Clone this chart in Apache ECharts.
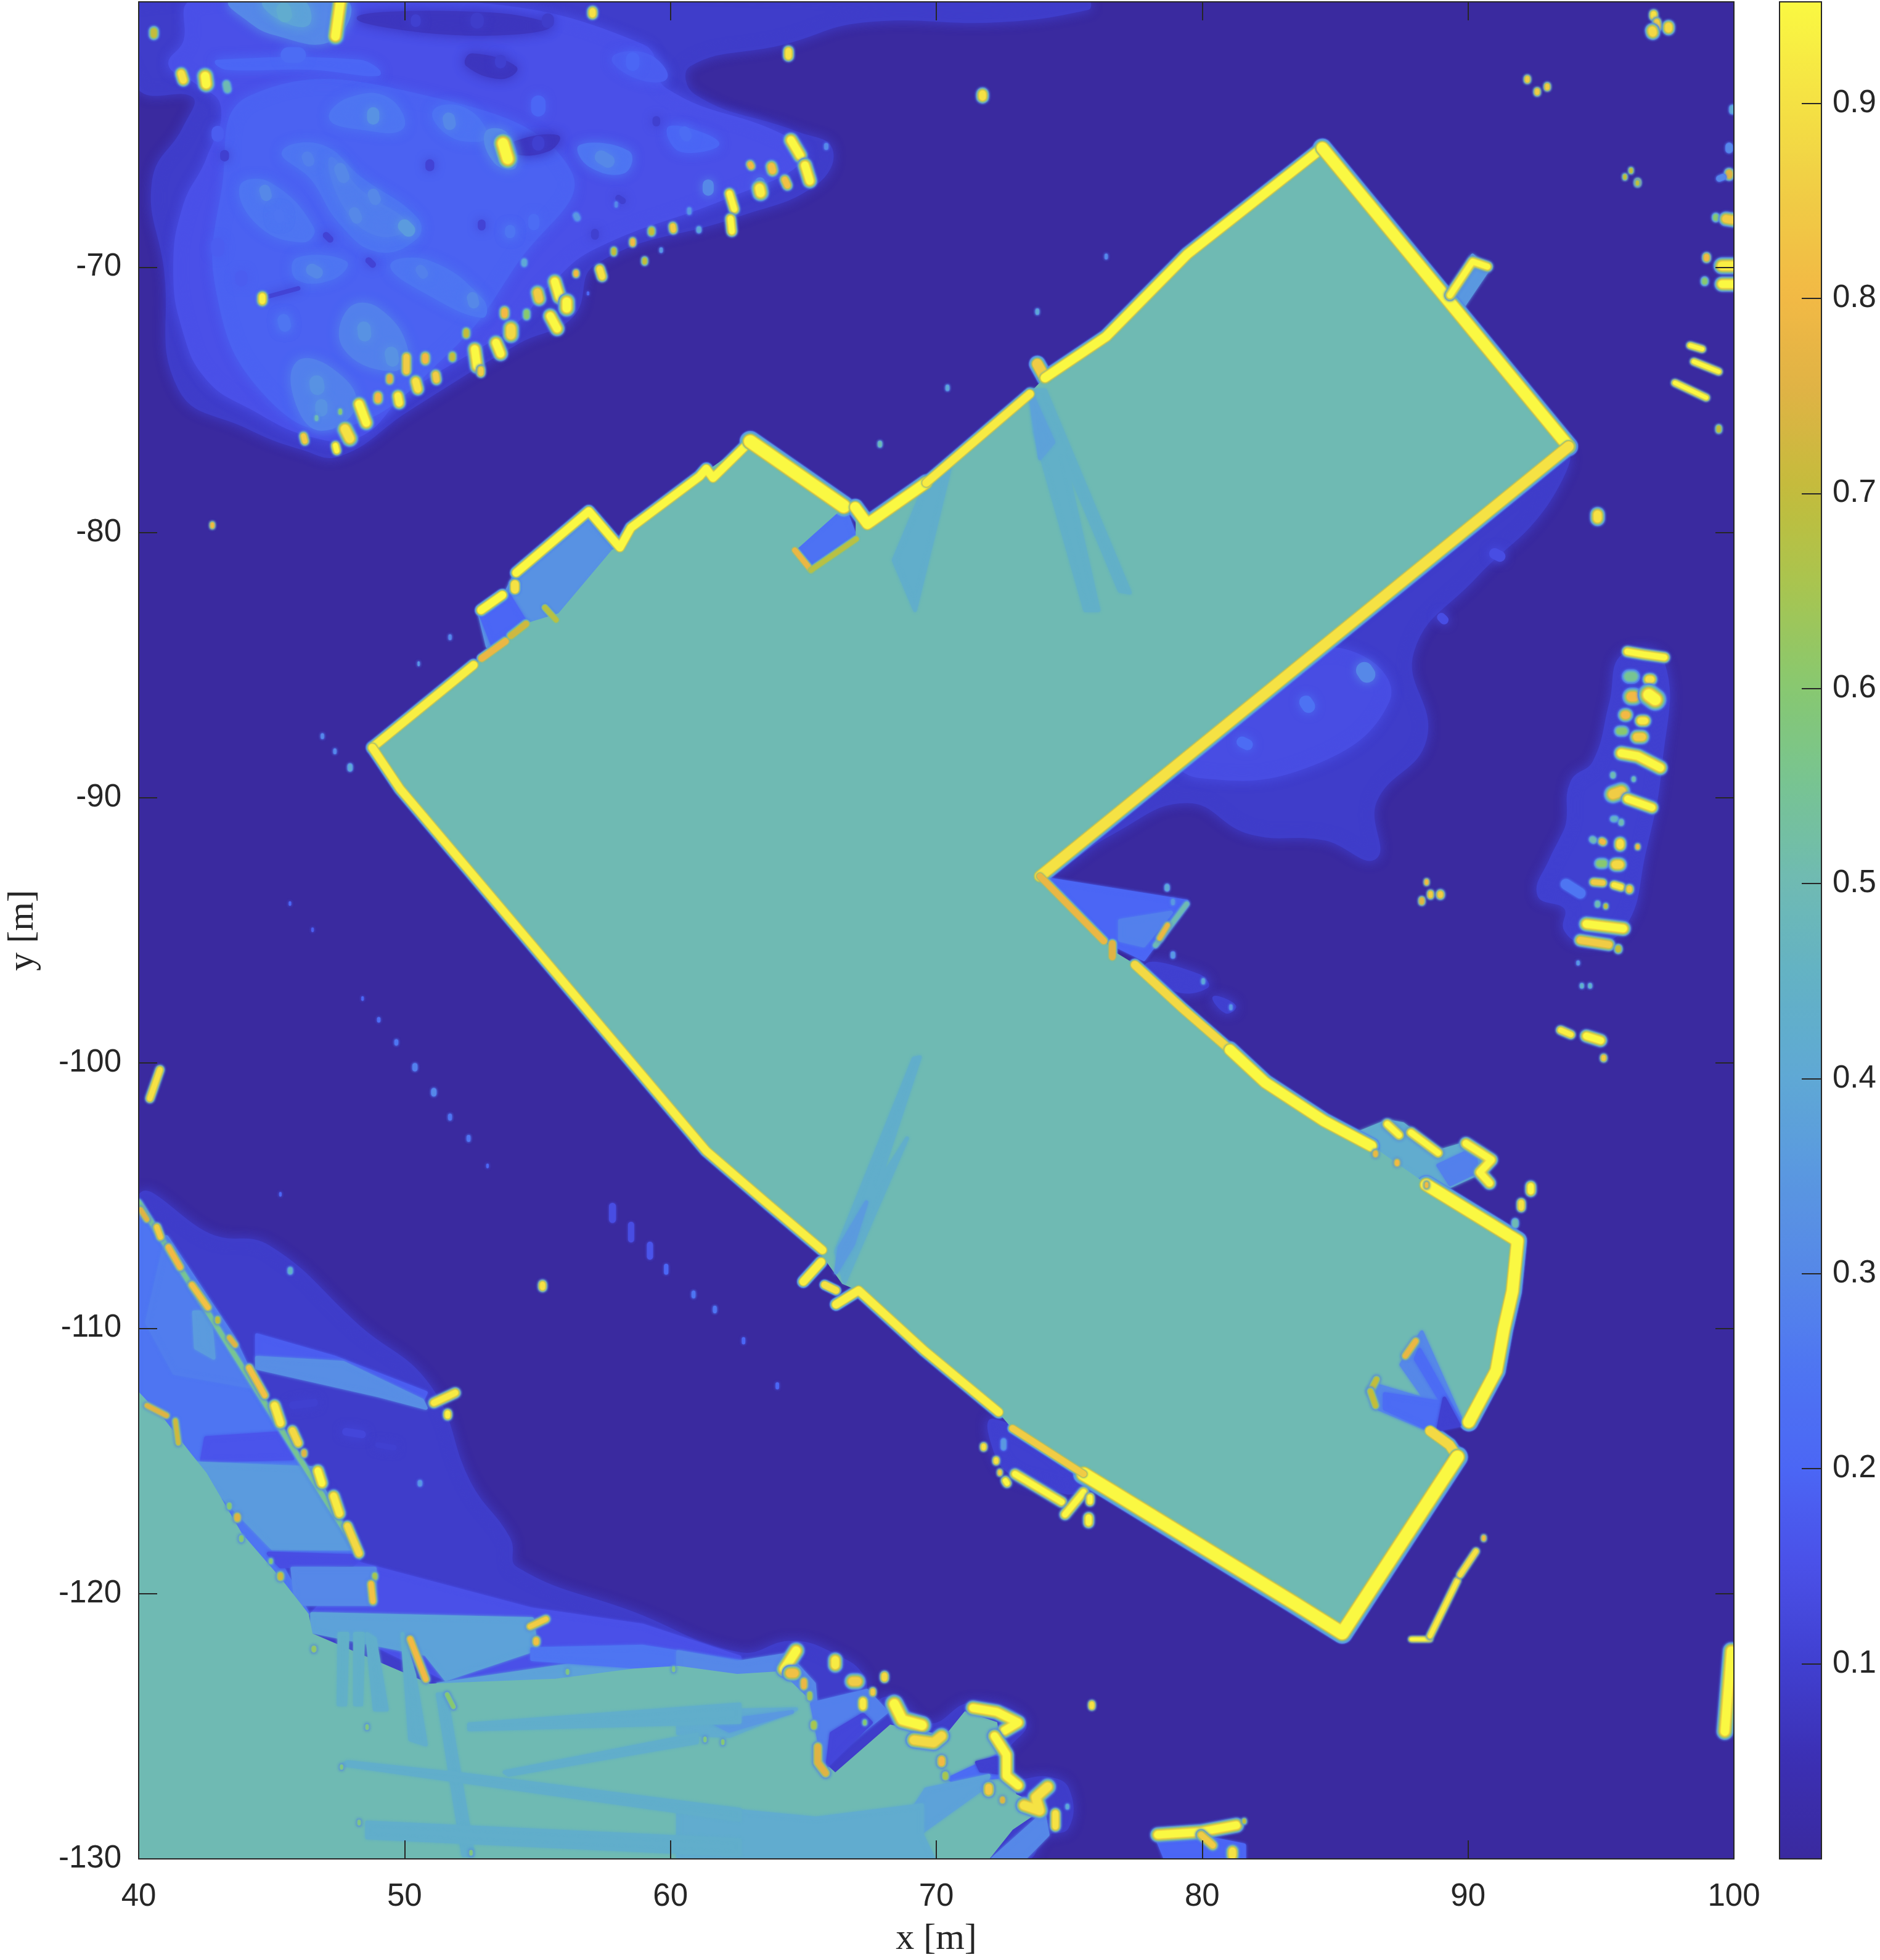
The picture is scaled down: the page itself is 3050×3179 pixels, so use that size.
<!DOCTYPE html>
<html><head><meta charset="utf-8">
<style>html,body{margin:0;padding:0;background:#fff}#c{width:3050px;height:3179px}</style>
<script src="https://cdn.jsdelivr.net/npm/echarts@6/dist/echarts.min.js"></script>
</head><body><div id="c"></div>
<script>
// ---- scales and tick labels
const xTicks=[40,50,60,70,80,90,100];
const yTicks=[-130,-120,-110,-100,-90,-80,-70];
const colorTicks=[0.1,0.2,0.3,0.4,0.5,0.6,0.7,0.8,0.9];
const valueStops=['#3a2a9f','#3b2fb3','#4040d0','#4a50e8','#4b66f5','#4e75f2','#5688e8','#5a98e0','#5fa8d5','#63b2c5','#6fbab3','#78c492','#88c870','#a8c550','#c3bc3c','#dfb345','#f2b945','#f0cc45','#f5e244','#faf842'];
const levelSteps=[0.25,0.38,0.5,0.62,0.75,0.88];

// ---- low-probability clouds: [value, x,y, x,y ...]
const cloudAreas=[
[.09,40,-60,75.68,-60,75.68,-60.24,72.4,-60.7,67.24,-60.71,64.26,-61.54,60.71,-62.37,60.89,-63.55,64.79,-64.97,66.03,-65.57,65.41,-66.87,62.49,-68.05,57.16,-69.83,56.28,-71.84,54.32,-72.79,50.07,-75.4,47.58,-77.05,46.16,-76.82,44.03,-75.99,41.55,-74.57,41.02,-70.07,40.57,-66.75,41.73,-64.74,42.08,-63.55,40,-63.2],
[.15,42.08,-60,51.84,-60,58.94,-61.66,59.82,-63.32,64.26,-65.09,64.97,-65.92,62.13,-67.34,57.16,-69.24,55.39,-70.66,54.15,-72.08,50.07,-74.68,48.29,-76.34,46.52,-76.34,44.21,-75.28,42.61,-74.21,41.73,-72.43,41.37,-70.07,41.73,-67.7,42.61,-65.92,43.15,-63.91,42.08,-62.96,41.19,-62.37,41.73,-61.54],
[.19,44.2,-63.6,50.8,-63.6,56.2,-66.4,54.2,-69.8,51.6,-73.2,47.6,-76,44.8,-74.8,43,-71,43.2,-67],
[.07,48.29,-60.59,53.26,-60.47,55.39,-60.95,51.84,-61.18],
[.07,52.55,-62.01,54.15,-62.49,53.61,-62.84,52.37,-62.37],
[.07,54.15,-65.33,55.74,-65.09,55.39,-65.57,54.15,-65.68],
[.3,43.5,-60,47.76,-60,47.23,-61.42,45.1,-61.18,44.03,-60.59],
[.38,44.74,-60,46.16,-60,46.34,-60.83,45.27,-60.59],
[.2,42.97,-62.25,48.29,-62.25,49,-62.72,46.52,-62.49,43.32,-62.49],
[.25,45.45,-65.68,46.87,-65.45,48.29,-66.63,50.42,-68.17,50.42,-68.88,49,-69.36,47.58,-68.29,46.52,-66.63],
[.27,47.23,-65.92,48.29,-67.11,50.07,-68.41,49,-68.76,47.76,-67.7],
[.25,47.94,-63.67,49.36,-63.67,49.89,-64.74,48.29,-64.74,47.23,-64.38],
[.24,51.13,-64.14,52.2,-64.03,53.08,-64.97,52.73,-65.21,51.66,-64.97],
[.25,43.86,-66.99,44.92,-66.87,46.52,-68.53,46.16,-69,44.57,-68.41],
[.25,45.98,-69.71,47.76,-69.83,47.23,-70.42,45.98,-70.42],
[.25,49.53,-69.95,50.95,-69.83,52.9,-71.25,52.9,-71.84,50.95,-71.01],
[.28,47.94,-71.6,49,-71.6,50.07,-73.15,49.53,-73.86,47.76,-73.03],
[.28,45.98,-73.62,47.23,-73.86,48.12,-75.16,46.87,-76.1,45.98,-75.16],
[.25,56.63,-65.45,58.4,-65.68,58.23,-66.4,56.98,-66.16],
[.3,53.08,-64.97,53.79,-64.97,54.15,-66.16,53.44,-66.04],
[.2,60,-64.74,61.77,-65.33,60.35,-65.57],
[.18,57.87,-62.13,59.1,-62.01,59.82,-62.84,58.76,-62.84],
// concave corner cloud
[.09,93.55,-77.18,92.84,-79.07,90.26,-81.66,87.9,-84.48,88.38,-87.78,86.5,-90.13,86.5,-92.25,84.62,-91.54,81.8,-91.31,79.45,-90.13,76.62,-91.31,74.5,-92.72,73.9,-92.96],
[.14,86.03,-84.72,86.97,-86.37,84.15,-88.72,79.9,-89.19,79,-88.25,83.68,-84.72],
[.1,77.94,-96.29,79.86,-96.71,80.16,-97.12,78.98,-97.23],
[.1,80.46,-97.54,81.2,-97.85,80.9,-98.06],
// right column cloud
[.1,95.84,-84.65,95.38,-86.43,94.76,-88.65,93.91,-89.43,93.75,-90.98,93.52,-91.54,93.13,-92.32,92.67,-93.65,93.68,-94.15,93.68,-94.98,94.45,-95.43,95.84,-94.87,96.61,-92.09,97.23,-88.76,97.31,-84.88],
[.1,72.16,-113.48,75.45,-115.49,75.2,-116.17,74.08,-115.89,72.87,-115.49,72.25,-114.7],
// lower-left forest, outer limit
[.09,40,-105.24,42.82,-106.56,44.89,-106.94,48.29,-109.97,50.95,-112.24,52.43,-115.84,53.91,-117.93,54.2,-119.06,58.64,-120.77,62.6,-122.28,64.58,-121.85,66.2,-122.35,67.24,-123.16,67.39,-124.26,68.27,-123.96,69.75,-124.96,71.38,-124.16,73.3,-124.86,72.56,-126.07,73,-126.97,74.19,-126.97,74.93,-127.38,74.93,-128.78,74.04,-129.09,73.3,-130,40,-130]
];

// ---- straight-edged shadow wedges: [value, x,y, x,y ...]
const wedgeAreas=[
[.2,74.25,-93.08,79.42,-93.91,77.8,-96.09,76.32,-95.36],
[.28,76.91,-94.64,78.83,-94.33,77.8,-95.57,76.91,-95.36],
[.33,54.2,-81.52,56.78,-79.5,57.91,-80.57,55.8,-83.3,54.57,-83.45,53.12,-84.29,52.79,-82.93,53.82,-82.27],
[.2,52.88,-83.12,53.92,-82.36,54.53,-83.35,53.3,-84.2],
[.24,66.52,-79.02,66.99,-80.25,65.29,-81.42,64.68,-80.67],
[.35,89.3,-71.3,89.8,-71.5,90.73,-70.12,90.17,-69.56],
[.42,85.93,-102.62,86.96,-102.2,87.55,-102.3,88.88,-103.34,89.92,-103.03,90.88,-103.65,90.36,-104.17,89.33,-104.64,88.44,-104.58,86.37,-103.13],
[.28,88.88,-103.86,90.21,-103.24,90.36,-104.07,89.33,-104.57],
[.2,78.33,-129.29,80.1,-129.19,81.58,-129.49,81.58,-130,78.62,-130],
[.25,40,-105.24,48.29,-118.68,45.33,-118.87,46.37,-120.77,40,-120.77],
[.16,42.53,-114.14,45.33,-113.95,45.78,-114.9,42.38,-114.99],
[.36,41.93,-115.08,46.52,-115.27,48.14,-118.3,45.04,-118.3],
[.14,44.89,-118.49,48.14,-118.59,48.29,-118.87,45.33,-118.97],
[.27,41.05,-106.56,43.56,-110.35,44.45,-112.24,41.34,-111.68,40.31,-109.78],
[.36,42.08,-109.4,42.67,-109.4,42.82,-111.11,42.15,-110.73],
[.18,44.45,-110.26,47.4,-111.11,50.8,-112.43,50.66,-112.72,47.4,-111.77,44.45,-111.11],
[.32,44.45,-111.11,47.7,-111.3,50.66,-112.72,50.8,-113,49.03,-112.53,44.45,-111.49],
[.15,48.29,-118.87,54.8,-120.6,58.94,-121.2,62.6,-122.4,62.6,-123,51.55,-123.23,46.52,-120.77],
[.3,45.78,-119.06,48.88,-119.06,48.88,-120.39,45.93,-120.39],
[.38,46.52,-120.77,54.8,-120.96,54.95,-122.09,51.55,-123.23,50.8,-122.28,46.52,-121.43],
[.38,51.25,-123.42,59.09,-122.28,62.6,-122.76,62.6,-124.18,51.99,-124.18],
[.25,54.8,-122.09,58.94,-122,62.6,-122.57,62.6,-123.04,54.8,-122.47],
[.3,60.29,-122.2,62.51,-122.6,64.4,-122.3,65.4,-123.4,65.5,-124.6,60.29,-124.6],
[.3,72.12,-130,74.04,-128.28,74.19,-129.09,73.3,-130]
];

// ---- mottling of the clouds: [width, value, x,y, x,y]
const blotchPoints=[
[22,.33,48.82,-64.2,48.82,-64.4],[22,.3,51.66,-64.4,51.7,-64.6],[20,.28,46.34,-65.85,46.4,-66],[22,.3,47.58,-66.3,47.7,-66.6],[20,.3,48.82,-67.25,48.9,-67.45],[24,.36,50,-68.45,50.15,-68.6],[20,.3,48.11,-67.95,48.2,-68.15],[20,.3,44.74,-67.1,44.8,-67.3],[18,.25,45.27,-68,45.3,-68.15],[22,.3,46.52,-70.1,46.7,-70.2],[18,.28,50.6,-70.1,50.7,-70.25],[20,.3,52.55,-71.15,52.6,-71.35],[24,.33,48.47,-72.3,48.5,-72.55],[24,.33,49.5,-73.25,49.55,-73.5],[26,.33,46.69,-74.35,46.72,-74.55],[22,.33,46.87,-75.2,46.87,-75.4],[24,.3,57.4,-65.85,57.65,-66],[26,.2,55.03,-63.8,55.03,-64.05],[24,.2,58.58,-62.15,58.58,-62.35],[28,.22,45.63,-62,46,-62],[26,.42,45.45,-60.3,45.5,-60.5],[22,.18,42.97,-64.9,42.97,-65.05],[24,.18,42.97,-69.15,42.97,-69.35],[22,.18,43.86,-70.35,43.86,-70.5],[22,.25,45.45,-72,45.5,-72.2],[20,.22,54.86,-68.2,54.86,-68.4],[18,.25,53.97,-68.6,53.97,-68.72],[20,.22,60.53,-64.9,60.6,-65.05],[20,.3,61.42,-66.9,61.42,-67.1],[18,.3,63.37,-66.8,63.37,-66.95],
[20,.1,53.61,-62.2,53.61,-62.3],[22,.1,55.03,-65.28,55.03,-65.38],[18,.1,50.42,-60.66,50.42,-60.76],[24,.09,52.73,-60.66,52.73,-60.76],[22,.09,55.39,-60.66,55.39,-60.76],[16,.1,43.23,-65.75,43.23,-65.85],[12,.11,47.05,-68.8,47.2,-68.95],[12,.11,48.65,-69.75,48.8,-69.9],[16,.11,50.95,-66.1,50.95,-66.22],[14,.11,52.9,-68.35,52.9,-68.47],[12,.1,58.05,-67.4,58.2,-67.5],[14,.1,59.47,-64.45,59.47,-64.55],[8,.11,44.9,-71.1,46,-70.8],[14,.1,57.16,-68.7,57.16,-68.82],
[30,.3,86.1,-85.2,86.2,-85.35],[24,.24,83.9,-86.4,84,-86.55],[20,.22,81.5,-87.9,81.7,-88],[20,.14,91,-80.8,91.2,-80.9],[16,.14,89,-83.2,89.1,-83.3],
[22,.38,78,-95,78.1,-95.1],[14,.36,42.7,-113,42.7,-113.2],[18,.3,41.6,-108.8,41.6,-109],[18,.32,43.6,-113.2,43.7,-113.4],[14,.12,47.8,-113.9,48.4,-114],[14,.1,45.8,-112.9,46.6,-112.8],[10,.1,49,-114.4,49.6,-114.5],[12,.1,46.6,-116.2,47,-116.2]
];

// ---- open space (value about one half)
const freeAreas=[
[.5,48.79,-88.11,54.57,-83.45,55.8,-83.07,57.82,-80.67,58.1,-80.57,58.52,-79.82,61.1,-77.89,63,-76.57,66.52,-79.02,64.68,-80.67,65.29,-81.42,66.99,-80.25,66.99,-79.35,67.41,-79.68,69.62,-78.13,73.52,-74.78,74.09,-74.17,76.39,-72.62,79.45,-69.51,84.52,-65.51,93.78,-76.76,73.9,-92.96,76.3,-95.4,76.62,-95.78,77.47,-96.3,79.26,-97.95,81.04,-99.5,82.36,-100.73,84.57,-102.18,86.36,-103.13,88.43,-104.59,91.86,-106.7,91.67,-108.6,91.34,-110.05,91.06,-111.6,90.03,-113.53,89.7,-113.62,88.57,-113.87,89.27,-114.7,85.27,-121.49,83.47,-120.36,75.54,-115.49,72.87,-113.77,72.35,-113.16,69.57,-110.85,67.08,-108.57,66.47,-108.3,65.72,-107.25,63.74,-105.37,61.35,-103.31,49.83,-89.66],
[.5,40,-112.43,40.9,-113.38,41.93,-114.71,42.53,-115.46,43.86,-117.74,45.33,-119.44,46.37,-120.77,46.52,-121.52,50.95,-123.42,55.69,-123.23,58.64,-122.85,60.29,-122.75,62.51,-123.05,64.13,-122.95,65.17,-123.96,65.47,-124.46,65.76,-126.37,66.2,-126.77,68.27,-124.96,70.34,-125.37,71.08,-124.46,72.27,-124.86,72.56,-126.77,73,-127.58,74.04,-128.08,72.86,-128.88,71.97,-130,40,-130]
];

// ---- shadowed rays across the open space
const rayAreas=[
[.43,70.51,-77.56,69.62,-78.13,68.4,-81.05,69.2,-82.93],
[.44,73.52,-74.64,74.09,-74.64,77.28,-82.27,76.9,-82.2,74.8,-77.18,76.1,-82.93,75.6,-82.93,73.7,-76.24],
[.38,73.52,-74.64,74.4,-76.6,73.9,-77.2],
[.43,69.38,-99.78,69.15,-99.83,66.23,-107.1,66.55,-108.26,68.9,-102.84,67.8,-104.58],
[.36,67.37,-105.25,66.36,-106.96,66.23,-107.9,66.87,-106.83],
[.3,89.77,-113.53,88.26,-110.15,87.49,-111.37,88.42,-112.7,86.56,-112.15,86.64,-113.03,88.49,-113.81],
[.22,89.73,-113.59,88.18,-110.81,88.03,-111.15,89.03,-112.81,86.87,-112.48,86.87,-113.03,88.57,-113.81],
[.1,89.65,-113.65,89.11,-112.65,88.88,-113.81],
[.28,65.32,-124.16,65.76,-126.37,68.13,-124.46,67.39,-123.66],
[.12,65.91,-126.47,66.06,-125.27,67.24,-124.56,67.54,-124.86],
[.22,70.49,-126.97,72.41,-126.07,72.71,-126.87,70.64,-127.08],
[.1,71.53,-126.37,72.41,-126.17,72.56,-126.77,71.67,-126.67],
[.38,69.61,-127.38,71.97,-126.87,71.82,-127.28,69.46,-128.98,69.16,-128.08],
[.42,60.29,-127.98,65.47,-128.48,69.46,-127.98,69.46,-129.09,69.9,-130,60.29,-130],
[.42,60.29,-124.46,64.73,-124.36,62.21,-125.37,60.29,-125.27],
[.35,61.62,-124.86,64.58,-124.46,62.21,-125.17],
[.44,47.55,-121.52,47.85,-121.52,47.77,-124.18,47.52,-124.18],
[.44,48.14,-121.52,48.44,-121.52,48.37,-124.18,48.14,-124.18],
[.43,48.59,-121.52,48.88,-121.71,49.33,-124.37,48.88,-124.37],
[.43,49.92,-121.52,50.36,-123.04,50.8,-125.69,50.21,-125.5],
[.43,51.25,-123.8,51.55,-123.8,52.58,-129.86,52.21,-129.86],
[.43,47.7,-126.45,62.6,-128.53,62.6,-128.15,52.28,-126.83,47.85,-126.35],
[.43,53.76,-126.73,61,-125.31,61,-125.6,53.91,-126.83],
[.43,52.43,-124.93,62.6,-124.18,62.6,-124.84,52.43,-125.12],
[.43,48.59,-128.63,62.6,-129.29,62.6,-129.85,48.59,-129.19]
];

// ---- building walls: [width, peak, x,y, x,y ...]
const wallPaths=[
[6,.93,48.79,-88.11,52.6,-85],
[5,.78,52.9,-84.75,53.8,-84.1],
[5,.72,54,-83.9,54.57,-83.45],
[4,.68,55.28,-82.83,55.7,-83.3],
[6,.95,52.88,-82.93,53.68,-82.36],
[6,.9,54.15,-81.95,54.15,-82.15],
[6,.95,54.2,-81.52,56.93,-79.2,58.1,-80.57,58.52,-79.82,61.1,-77.89,61.35,-77.6,61.6,-77.95,63,-76.57],
[10,.95,63,-76.57,66.52,-79.02],
[4,.78,64.68,-80.67,65.29,-81.42],
[4,.68,65.29,-81.42,66.99,-80.25],
[8,.95,66.95,-79.05,67.41,-79.68,69.62,-78.13],
[6,.92,69.62,-78.13,73.52,-74.78],
[8,.85,73.8,-73.65,74.09,-74.17],
[7,.95,74.09,-74.17,76.39,-72.62,79.45,-69.51,84.52,-65.51],
[9,.95,84.52,-65.51,93.78,-76.76],
[8,.9,93.78,-76.76,73.9,-92.96],
[5,.78,73.9,-92.96,76.3,-95.4],
[5,.75,76.62,-95.5,76.62,-96],
[6,.88,77.47,-96.3,79.26,-97.95,81.04,-99.5],
[8,.95,81.04,-99.5,82.36,-100.73,84.57,-102.18,86.36,-103.13],
[9,.95,88.43,-104.59,91.86,-106.7,91.67,-108.6,91.34,-110.05,91.06,-111.6,90.03,-113.53],
[7,.88,88.57,-113.87,89.3,-114.4,89.6,-114.85],
[10,.95,89.6,-114.85,85.27,-121.49,83.47,-120.36,75.54,-115.49],
[5,.85,75.54,-115.49,72.87,-113.77],
[6,.93,72.35,-113.16,69.57,-110.85,67.08,-108.57,66.23,-109.1],
[6,.93,48.79,-88.11,49.83,-89.66,61.35,-103.31,63.74,-105.37,65.72,-107.05],
[6,.93,65,-108.24,65.67,-107.5],
[5,.9,65.8,-108.36,66.23,-108.57]
];

// ---- isolated returns: [width, peak, x,y, x,y ...]
const hitPoints=[
[9,.95,47.58,-60,47.4,-61.3],[6,.7,40.57,-61.1,40.57,-61.25],[7,.9,41.6,-62.7,41.68,-62.95],[9,.95,42.5,-62.8,42.54,-63.1],[6,.5,43.3,-63.1,43.34,-63.3],
[6,.9,57.07,-60.35,57.07,-60.47],[6,.9,64.44,-61.85,64.44,-62.05],[11,.95,53.7,-65.33,53.88,-65.92],[4,.3,65.86,-65.4,65.86,-65.5],[8,.95,64.53,-65.21,64.88,-65.8],[8,.95,65.06,-66.16,65.24,-66.75],
[5,.8,63,-66.12,63.04,-66.2],[7,.82,63.8,-66.2,63.84,-66.36],[9,.93,63.35,-67.02,63.39,-67.2],[6,.82,64.3,-66.7,64.4,-66.92],[6,.95,62.22,-67.22,62.4,-67.82],[6,.95,62.26,-68.17,62.31,-68.65],
[4,.35,60.71,-67.82,60.71,-67.94],[5,.85,60.09,-68.45,60.11,-68.6],[5,.7,59.29,-68.6,59.29,-68.7],[4,.4,61.07,-68.55,61.07,-68.63],[4,.8,58.58,-69,58.58,-69.12],[3,.35,59.65,-69.32,59.65,-69.4],[4,.7,59.03,-69.72,59.03,-69.82],[4,.7,57.87,-69.35,57.87,-69.47],
[6,.9,57.34,-70.07,57.43,-70.36],[4,.8,56.45,-70.2,56.45,-70.28],[5,.4,54.5,-69.78,54.5,-69.88],[6,.35,56.45,-68.05,56.5,-68.15],[3,.3,57.96,-67.58,57.96,-67.7],[3,.2,56.9,-70.96,56.9,-71.02],
[8,.95,55.65,-70.54,55.83,-71.13],[8,.85,55,-70.95,55.06,-71.2],[9,.95,56.1,-71.3,56.1,-71.55],[8,.95,55.48,-71.84,55.74,-72.32],[5,.6,54.59,-71.7,54.59,-71.86],[6,.8,53.76,-71.65,53.76,-71.8],[9,.88,54,-72.3,54,-72.55],[8,.95,53.44,-72.85,53.61,-73.26],
[5,.7,52.32,-72.42,52.32,-72.56],[8,.95,52.64,-73.09,52.73,-73.74],[5,.85,52.87,-73.85,52.87,-74],[5,.7,51.8,-73.32,51.8,-73.44],[6,.8,50.78,-73.36,50.78,-73.52],[6,.85,50.07,-73.38,50.07,-73.92],[6,.85,51.17,-74.05,51.2,-74.25],[7,.9,50.42,-74.3,50.5,-74.6],
[5,.75,49.44,-74.14,49.44,-74.28],[6,.8,49,-74.85,49,-75],[7,.93,49.75,-74.85,49.8,-75.12],[8,.95,48.29,-75.16,48.56,-75.87],[9,.9,47.76,-76.1,47.94,-76.46],[5,.95,47.4,-76.72,47.45,-76.92],[5,.85,46.2,-76.36,46.25,-76.56],[3,.6,47.58,-75.4,47.58,-75.5],[3,.5,46.69,-75.64,46.69,-75.74],[6,.93,44.65,-71.1,44.65,-71.28],
[7,.9,71.74,-63.47,71.74,-63.59],[5,.9,96.98,-60.45,96.98,-60.55],[5,.85,97.1,-60.75,97.14,-60.95],[8,.88,96.93,-61.08,96.95,-61.16],[7,.88,97.54,-60.92,97.54,-61.02],[5,.4,99.94,-64,99.94,-64.12],[7,.3,99.82,-65.45,99.82,-65.57],[6,.75,99.82,-66.45,99.82,-66.55],[6,.3,99.45,-66.66,99.6,-66.6],
[5,.6,99.32,-68.1,99.32,-68.16],[8,.85,99.7,-68.18,99.95,-68.22],[5,.8,98.97,-69.6,98.97,-69.68],[9,.93,99.55,-69.95,99.95,-69.95],[5,.6,98.9,-70.5,98.9,-70.56],[8,.95,99.55,-70.64,99.95,-70.64],[4,.8,96.38,-66.77,96.38,-66.85],
[4,.95,98.35,-72.95,98.81,-73.09],[4,.95,98.49,-73.56,99.43,-73.94],[4,.95,97.78,-74.36,98.96,-74.92],[4,.7,99.43,-76.05,99.43,-76.15],
[4,.85,92.23,-62.88,92.23,-62.96],[4,.85,92.6,-63.35,92.6,-63.43],[4,.85,92.98,-63.16,92.98,-63.24],[3,.7,95.9,-66.56,95.9,-66.64],[3,.7,96.37,-66.79,96.37,-66.87],[3,.7,96.13,-66.32,96.13,-66.4],
[8,.9,94.87,-79.32,94.87,-79.48],[3,.3,76.39,-69.55,76.39,-69.65],[3,.4,73.8,-71.63,73.8,-71.73],[3,.5,67.88,-76.62,67.88,-76.72],[3,.4,70.42,-74.5,70.42,-74.6],[3,.8,42.77,-79.68,42.77,-79.78],[3,.3,46.91,-87.63,46.91,-87.73],[4,.4,47.95,-88.8,47.95,-88.92],[3,.3,47.38,-88.2,47.38,-88.3],[3,.3,51.71,-83.9,51.71,-84],[2,.35,50.53,-84.9,50.53,-85],
[5,.9,40.8,-100.25,40.42,-101.34],[5,.9,55.19,-108.34,55.19,-108.46],
[3,.2,45.69,-93.95,45.69,-94.03],[3,.18,46.54,-94.94,46.54,-95.02],[3,.2,48.42,-97.53,48.42,-97.61],[4,.22,49.03,-98.33,49.03,-98.41],[4,.25,49.69,-99.17,49.69,-99.27],[5,.28,50.39,-100.1,50.39,-100.22],[5,.3,51.1,-101.04,51.1,-101.16],[4,.25,51.71,-101.98,51.71,-102.1],[4,.25,52.41,-102.78,52.41,-102.9],[3,.2,53.12,-103.84,53.12,-103.92],
[8,.14,57.82,-105.4,57.82,-105.9],[7,.14,58.52,-106.1,58.52,-106.65],[7,.16,59.23,-106.85,59.23,-107.3],[5,.2,59.84,-107.65,59.84,-107.9],[4,.25,60.87,-108.65,60.87,-108.8],[4,.25,61.67,-109.22,61.67,-109.36],[4,.2,62.75,-110.4,62.75,-110.54],[4,.2,64.02,-112.1,64.02,-112.24],
// right column
[6,.95,95.99,-84.49,96.61,-84.6,97.39,-84.71],[9,.55,96.05,-85.43,96.2,-85.43],[7,.9,96.8,-85.54,96.88,-85.54],[10,.8,96.14,-86.19,96.25,-86.19],[12,.95,96.8,-86.12,97.04,-86.3],[8,.8,95.9,-86.88,95.95,-86.88],[7,.92,96.5,-87.1,96.65,-87.1],[7,.6,95.7,-87.49,95.85,-87.49],[8,.85,96.35,-87.71,96.55,-87.71],
[8,.95,95.76,-88.32,96.38,-88.43,97.23,-88.87],[4,.5,95.45,-89.12,95.45,-89.18],[3,.5,96.23,-89.27,96.23,-89.33],[10,.85,95.45,-89.87,95.76,-89.76],[7,.95,96,-90.04,96.92,-90.37],[5,.45,95.46,-90.8,95.54,-90.8],[4,.5,95.76,-90.9,95.76,-90.96],
[5,.8,95.03,-91.64,95.08,-91.67],[5,.5,94.68,-91.57,94.72,-91.6],[7,.9,95.72,-91.7,95.72,-91.8],[3,.8,96.38,-91.82,96.38,-91.88],[7,.6,94.95,-92.48,95.1,-92.48],[8,.88,95.55,-92.52,95.7,-92.52],[5,.85,94.72,-93.18,95.07,-93.21],[5,.92,95.49,-93.29,95.76,-93.37],[5,.85,96.07,-93.42,96.07,-93.48],
[12,.25,93.68,-93.26,94.22,-93.6],[4,.5,94.87,-93.98,94.87,-94.04],[3,.7,95.18,-94.06,95.18,-94.12],[8,.95,94.45,-94.76,95.84,-94.93],[7,.85,94.22,-95.37,95.3,-95.54],[5,.7,95.65,-95.67,95.65,-95.73],[3,.35,94.14,-96.2,94.14,-96.26],[3,.45,94.28,-97.06,94.28,-97.12],[3,.45,94.59,-97.06,94.59,-97.12],[5,.93,93.48,-98.76,93.87,-98.93],[7,.95,94.45,-98.98,94.99,-99.15],[4,.85,95.1,-99.78,95.1,-99.84],
// mid right
[3,.8,88.44,-93.14,88.44,-93.22],[4,.85,88.59,-93.6,88.59,-93.7],[5,.85,88.96,-93.62,88.96,-93.68],[4,.75,88.26,-93.84,88.26,-93.94],[4,.4,78.68,-93.34,78.68,-93.44],[4,.5,79.42,-94,78.24,-95.57],[4,.78,78.7,-94.8,78.4,-95.3],[4,.35,78.9,-93.88,78.9,-93.98],[4,.35,78.9,-95.88,78.9,-95.98],[3,.4,80.04,-96.87,80.04,-96.97],[3,.35,81.08,-97.85,81.08,-97.95],
[6,.95,89.32,-71.06,90.17,-69.79,90.73,-69.98],
[6,.95,86.96,-102.3,87.41,-102.72],[6,.95,87.85,-102.62,88.88,-103.39],[7,.95,89.92,-103.03,90.88,-103.65,90.44,-104.12,90.81,-104.53],[4,.78,86.52,-103.38,86.52,-103.46],[4,.8,87.33,-103.72,87.33,-103.8],[3,.8,88.44,-104.55,88.44,-104.65],[6,.95,92.36,-104.64,92.36,-104.84],[5,.9,92,-105.26,92,-105.46],[5,.5,91.77,-105.98,91.77,-106.1],
[5,.78,87.64,-111.04,88.03,-110.48],[5,.7,86.33,-112.37,86.56,-111.92],[5,.7,86.33,-112.37,86.52,-112.92],
[6,.95,72.96,-115.49,74.72,-116.55],[6,.95,74.84,-117.02,75.54,-116.17],[5,.95,72.6,-115.74,72.66,-115.84],[4,.9,71.78,-114.43,71.78,-114.51],[4,.9,72.25,-114.95,72.25,-115.03],[3,.85,72.39,-115.4,72.39,-115.48],[5,.95,75.78,-116.36,75.78,-116.54],[6,.95,75.73,-117.13,75.73,-117.33],[5,.35,72.53,-114.25,72.53,-114.5],
[3,.95,87.86,-121.72,88.57,-121.72],[4,.92,88.57,-121.6,89.6,-119.5],[4,.9,89.7,-119.3,90.3,-118.4],[3,.8,90.59,-117.87,90.59,-117.95],
[4,.55,40,-105.24,48.29,-118.49],[4,.75,40.07,-105.52,40.31,-105.9],[5,.85,40.68,-106.18,40.82,-106.56],[5,.8,41.12,-106.94,41.56,-107.7],[5,.82,42,-108.36,42.6,-109.21],[4,.7,42.97,-109.64,42.97,-109.74],[4,.75,43.41,-110.35,43.63,-110.63],[5,.82,44.15,-111.49,44.74,-112.53],[7,.92,45.11,-112.91,45.33,-113.57],[6,.88,45.78,-113.85,46,-114.33],[4,.75,46.22,-114.66,46.22,-114.76],[7,.95,46.74,-115.37,46.89,-115.84],[7,.92,47.33,-116.32,47.55,-116.98],[6,.88,47.85,-117.45,48.29,-118.49],
[4,.65,48.88,-119.3,48.88,-119.4],[5,.82,48.74,-119.63,48.81,-120.29],[5,.85,54.72,-121.24,55.32,-120.96],[5,.82,54.95,-121.75,54.95,-121.85],[5,.8,50.21,-121.71,50.8,-123.23],[4,.6,51.6,-123.8,51.84,-124.27],[6,.92,51.1,-112.81,51.91,-112.43],[5,.93,51.62,-113.2,51.62,-113.3],[4,.45,45.7,-107.78,45.7,-107.88],[4,.35,50.58,-115.8,50.58,-115.88],[3,.2,45.33,-104.91,45.33,-104.99],
[4,.75,40.31,-112.91,41.05,-113.29],[4,.72,41.38,-113.48,41.49,-114.33],[5,.75,43.71,-117.08,43.71,-117.18],[4,.6,43.41,-116.65,43.41,-116.75],[4,.6,43.86,-117.88,43.86,-117.98],[5,.72,45.33,-119.3,45.33,-119.4],[3,.6,44.97,-118.74,44.97,-118.82],[4,.62,46.59,-122.05,46.59,-122.13],
[3,.58,48.29,-128.58,48.29,-128.68],[3,.58,47.63,-126.5,47.63,-126.58],[3,.58,48.59,-124.98,48.59,-125.08],[3,.58,52.5,-129.72,52.5,-129.82],[3,.58,56.13,-122.9,56.13,-123],[3,.58,60.12,-122.8,60.12,-122.9],[3,.58,61.3,-125.45,61.3,-125.55],[3,.6,61.97,-125.55,61.97,-125.65],
[9,.95,64.73,-122.15,64.28,-122.85],[9,.82,64.5,-123,64.66,-123],[5,.78,65.02,-123.3,65.02,-123.5],[4,.65,65.24,-123.78,65.24,-123.94],[8,.92,66.2,-122.5,66.2,-122.7],[9,.85,66.85,-123.31,67.03,-123.31],[6,.92,67.24,-124.05,67.24,-124.26],[4,.85,67.61,-123.66,67.61,-123.76],[5,.88,68.05,-123.08,68.05,-123.2],[3,.6,67.31,-124.82,67.31,-124.9],
[10,.95,68.42,-124.16,68.72,-124.76,69.46,-124.96],[9,.88,69.16,-125.52,69.9,-125.62,70.2,-125.37],[6,.8,70.2,-126.25,70.2,-126.39],[5,.65,70.34,-126.82,70.34,-126.92],[5,.65,65.39,-124.9,65.39,-125.02],[6,.75,65.54,-125.77,65.54,-126.37,65.84,-126.77],
[8,.95,71.38,-124.31,72.27,-124.46,73.08,-124.86,72.56,-125.17],[8,.95,72.19,-125.37,72.64,-126.07,72.64,-126.87,73.08,-127.23],[7,.85,71.97,-127.3,71.97,-127.46],[4,.75,72.49,-127.74,72.49,-127.82],[9,.9,74.19,-127.28,73.74,-127.68,73.89,-128.18,73.3,-127.98],[6,.9,74.48,-128.28,74.48,-128.78],[3,.4,74.93,-127.99,74.93,-128.07],[4,.9,75.85,-124.15,75.85,-124.27],
[8,.95,78.33,-129.09,79.96,-128.98,81.29,-128.73],[3,.7,81.58,-128.55,81.58,-128.61],[6,.85,79.96,-129.09,80.4,-129.49],[7,.9,81.14,-129.7,81.14,-129.88],[9,.95,99.9,-122.15,99.66,-125.2]
];

const C=echarts.init(document.getElementById('c'),null,{renderer:'canvas'});
const MIN=0,MAX=0.952;
function rgb(h){return [1,3,5].map(i=>parseInt(h.substr(i,2),16));}
function colorOf(v){
  const f=Math.max(0,Math.min(valueStops.length-1.001,v/0.05)),i=Math.floor(f),t=f-i;
  const a=rgb(valueStops[i]),b=rgb(valueStops[i+1]);
  return 'rgb('+a.map((c,k)=>Math.round(c+(b[k]-c)*t)).join(',')+')';
}
function project(api,row,start){
  const out=[];
  for(let i=start;i<row.length;i+=2) out.push(api.coord([row[i],row[i+1]]));
  return out;
}
function areaSeries(list,z,blur,smooth){
  return {type:'custom',xAxisIndex:0,yAxisIndex:0,z:z,clip:true,silent:true,animation:false,
    encode:{x:0,y:1},data:list.map((r,i)=>[r[1],r[2],i]),
    renderItem(p,api){
      const r=list[api.value(2)],c=colorOf(r[0]);
      return {type:'polygon',shape:{points:project(api,r,1),smooth:smooth},
        style:{fill:c,stroke:c,lineWidth:blur?6:2,lineJoin:'round',shadowBlur:blur,shadowColor:c}};
    }};
}
function strokeSeries(list,z,test,core,halo,blur){
  return {type:'custom',xAxisIndex:0,yAxisIndex:0,z:z,clip:true,silent:true,animation:false,
    encode:{x:0,y:1},data:list.map((r,i)=>[r[2],r[3],i]),
    renderItem(p,api){
      const r=list[api.value(2)],w=r[0],v=r[1],pts=project(api,r,2),kids=[];
      levelSteps.concat([v]).forEach(t=>{
        if(t>v||!test(t,v)) return;
        const c=colorOf(t);
        kids.push({type:'polyline',shape:{points:pts},
          style:{fill:null,stroke:c,lineWidth:w*(core+halo*(1-t/v)),lineCap:'round',lineJoin:'round',shadowBlur:blur,shadowColor:c}});
      });
      return {type:'group',children:kids};
    }};
}
const tickColor='#262626';
const labelFont='"Liberation Sans",Arial,sans-serif';
const serif='"Liberation Serif","DejaVu Serif",serif';
function mainX(pos,show,name){return {type:'value',gridIndex:0,min:40,max:100,interval:10,position:pos,z:20,
  name:name,nameLocation:'middle',nameGap:100,nameTextStyle:{fontFamily:serif,fontSize:60,color:tickColor},
  axisLine:{show:true,onZero:false,lineStyle:{color:tickColor,width:2}},
  axisTick:{show:true,inside:true,length:30,lineStyle:{color:tickColor,width:2}},
  axisLabel:{show:show,fontSize:51,color:tickColor,fontFamily:labelFont,margin:36},splitLine:{show:false}};}
function mainY(pos,show,name){return {type:'value',gridIndex:0,min:-130,max:-60,interval:10,position:pos,z:20,
  name:name,nameLocation:'middle',nameGap:158,nameTextStyle:{fontFamily:serif,fontSize:60,color:tickColor},
  axisLine:{show:true,onZero:false,lineStyle:{color:tickColor,width:2}},
  axisTick:{show:true,inside:true,length:30,lineStyle:{color:tickColor,width:2}},
  axisLabel:{show:show,fontSize:51,color:tickColor,fontFamily:labelFont,margin:28,
    formatter:v=>yTicks.includes(v)?String(v):''},splitLine:{show:false}};}
C.setOption({
  animation:false,backgroundColor:'#fff',
  grid:[
    {left:225,top:3,width:2588,height:3012,show:true,backgroundColor:valueStops[0],borderWidth:0,containLabel:false,outerBoundsMode:'none'},
    {left:2887,top:3,width:68,height:3012,show:false,outerBoundsMode:'none'}
  ],
  xAxis:[mainX('bottom',true,'x [m]'),mainX('top',false,''),
    {type:'value',gridIndex:1,min:0,max:1,position:'bottom',z:20,axisLine:{show:true,onZero:false,lineStyle:{color:tickColor,width:2}},axisTick:{show:false},axisLabel:{show:false},splitLine:{show:false}},
    {type:'value',gridIndex:1,min:0,max:1,position:'top',z:20,axisLine:{show:true,onZero:false,lineStyle:{color:tickColor,width:2}},axisTick:{show:false},axisLabel:{show:false},splitLine:{show:false}}],
  yAxis:[mainY('left',true,'y [m]'),mainY('right',false,''),
    {type:'value',gridIndex:1,min:MIN,max:MAX,interval:0.1,position:'right',z:20,
     axisLine:{show:true,onZero:false,lineStyle:{color:tickColor,width:2}},
     axisTick:{show:true,inside:true,length:32,lineStyle:{color:tickColor,width:2}},
     axisLabel:{show:true,fontSize:51,color:tickColor,fontFamily:labelFont,margin:18,showMaxLabel:false,
       formatter:v=>colorTicks.some(t=>Math.abs(t-v)<1e-6)?v.toFixed(1):''},splitLine:{show:false}},
    {type:'value',gridIndex:1,min:MIN,max:MAX,position:'left',z:20,axisLine:{show:true,onZero:false,lineStyle:{color:tickColor,width:2}},axisTick:{show:false},axisLabel:{show:false},splitLine:{show:false}}],
  visualMap:{type:'continuous',show:true,min:MIN,max:MAX,seriesIndex:[],left:2887,top:3,itemWidth:68,itemHeight:3012,padding:0,
    text:null,calculable:false,hoverLink:false,realtime:false,showLabel:false,inRange:{color:valueStops},z:4},
  series:[
    areaSeries(cloudAreas,1,18,0.45),
    strokeSeries(blotchPoints,1.5,(t,v)=>t===v,0.9,0,16),
    areaSeries(wedgeAreas,1.8,5,0),
    strokeSeries(wallPaths,2,t=>t<0.5,2.3,1.5,3),
    areaSeries(freeAreas,3,0,0),
    areaSeries(rayAreas,4,5,0),
    strokeSeries(wallPaths,5,t=>t>=0.5,1.9,1.4,3),
    strokeSeries(hitPoints,6,()=>true,1.4,2.2,4)
  ]
});
</script></body></html>
